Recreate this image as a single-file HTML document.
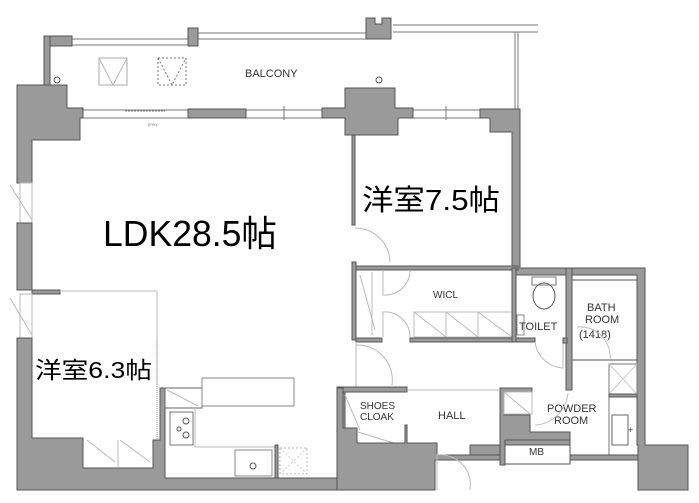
<!DOCTYPE html>
<html><head><meta charset="utf-8"><style>
html,body{margin:0;padding:0;background:#fff;}
svg{display:block;}
.w{fill:#9a9a9a;stroke:#555;stroke-width:1;}
.l{stroke:#777;stroke-width:1;fill:none;}
.f{stroke:#bbb;stroke-width:1;fill:none;}
.t{font-family:"Liberation Sans",sans-serif;fill:#333;}
.j{font-family:"Liberation Sans","Noto Sans CJK JP",sans-serif;fill:#000;}
</style></head><body>
<svg width="699" height="503" viewBox="0 0 699 503" xmlns="http://www.w3.org/2000/svg">
<line class="l" x1="72" y1="39" x2="190" y2="39"/><line class="l" x1="72" y1="45" x2="190" y2="45"/>
<line class="l" x1="198" y1="33" x2="366" y2="33"/><line class="l" x1="198" y1="39" x2="366" y2="39"/>
<line class="l" x1="393" y1="25" x2="538" y2="25"/><line class="l" x1="393" y1="32" x2="538" y2="32"/>
<line class="l" x1="515" y1="32" x2="515" y2="110"/><line class="l" x1="518" y1="32" x2="518" y2="110"/>
<rect class="w" x="44" y="36" width="28" height="10"/>
<rect class="w" x="44" y="36" width="6" height="50"/>
<rect class="w" x="188" y="28" width="10" height="18"/>
<path class="w" d="M366 18h9v6h7v-6h9v21h-25z"/>
<circle cx="57" cy="80" r="3" fill="none" stroke="#555"/>
<circle cx="379" cy="80" r="3" fill="none" stroke="#555"/>
<rect x="99" y="58" width="28" height="27" fill="none" stroke="#aaa"/><path d="M99 58L113 85L127 58" class="f"/>
<rect x="158" y="58" width="28" height="27" fill="none" stroke="#777" stroke-dasharray="2,2"/><path d="M158 58L172 85L186 58" fill="none" stroke="#777" stroke-dasharray="2,2"/>
<text class="t" x="245" y="77" font-size="11">BALCONY</text>
<line class="l" x1="83" y1="110" x2="188" y2="110"/><line class="l" x1="83" y1="118" x2="188" y2="118"/>
<line x1="125" y1="111" x2="165" y2="111" stroke="#777" stroke-dasharray="2,1"/>
<text x="148" y="126" font-size="4" fill="#666" font-family="Liberation Sans">(FIX)</text>
<rect class="w" x="188" y="109" width="58" height="9"/>
<line class="l" x1="246" y1="110" x2="322" y2="110"/><line class="l" x1="246" y1="118" x2="322" y2="118"/>
<line class="l" x1="284" y1="106" x2="284" y2="120"/>
<path class="w" d="M17 85H67V108H83V118H80V140H32V183H17Z"/>
<path class="w" d="M322 108H345V88H395V108H413V118H398V135H345V118H322Z"/>
<line class="l" x1="413" y1="110" x2="480" y2="110"/><line class="l" x1="413" y1="118" x2="480" y2="118"/>
<line class="l" x1="446" y1="106" x2="446" y2="120"/>
<path class="w" d="M480 109H520V268H645V445H688V490H638V445H637V275H512V132H490V118H480Z"/>
<rect x="20" y="183" width="12" height="40" fill="none" stroke="#bbb"/>
<path d="M10 185L32 220" class="f"/>
<rect class="w" x="17" y="223" width="15" height="67"/>
<rect class="w" x="32" y="290" width="28" height="4"/>
<rect x="20" y="294" width="12" height="44" fill="none" stroke="#bbb"/>
<path d="M10 298L32 335" class="f"/>
<path class="w" d="M17 338H32V438H83V468H153V440H160V388H165V478H338V388H345V490H67V490H17Z"/>
<line class="f" x1="60" y1="291" x2="157" y2="291"/>
<line class="f" x1="157" y1="291" x2="157" y2="388"/>
<line x1="157" y1="340" x2="157" y2="440" stroke="#999" stroke-dasharray="1,1"/>
<path class="f" d="M87 440L115 462M120 440L150 462M118 440V468"/>
<rect x="165" y="388" width="37" height="20" fill="none" stroke="#666"/>
<path class="f" d="M167 390L198 406"/>
<rect x="202" y="378" width="92" height="28" fill="none" stroke="#888"/>
<line class="f" x1="195" y1="408" x2="195" y2="447"/><line class="f" x1="195" y1="447" x2="276" y2="447"/>
<rect x="170" y="412" width="23" height="33" fill="none" stroke="#777"/>
<circle cx="186" cy="421" r="3" fill="none" stroke="#555"/><circle cx="186" cy="435" r="3" fill="none" stroke="#555"/><circle cx="179" cy="429" r="2" fill="none" stroke="#555"/>
<rect x="235" y="450" width="37" height="26" fill="none" stroke="#888"/>
<circle cx="253" cy="466" r="3" fill="none" stroke="#555"/>
<rect x="275" y="445" width="3" height="33" class="w"/>
<rect x="280" y="448" width="27" height="26" fill="none" stroke="#bbb" stroke-dasharray="2,2"/>
<path d="M280 448L307 474M307 448L280 474" stroke="#ccc" stroke-dasharray="2,2"/>
<rect class="w" x="352" y="135" width="3" height="90"/>
<path class="f" d="M355 228A35 35 0 0 1 390 262"/>
<rect class="w" x="352" y="266" width="166" height="4"/>
<rect class="w" x="352" y="262" width="4" height="78"/>
<path class="f" d="M383 270V295A25 25 0 0 0 410 270M383 337V312A25 25 0 0 1 410 337"/>
<path class="f" d="M360 275L375 330M372 272V335"/>
<rect x="414" y="312" width="98" height="25" fill="none" stroke="#bbb"/>
<path class="f" d="M414 312L446 337M446 312L478 337M478 312L512 337M446 312V337M478 312V337"/>
<text class="t" x="433" y="298" font-size="10">WICL</text>
<rect class="w" x="356" y="338" width="26" height="4"/><rect class="w" x="410" y="338" width="125" height="4"/>
<rect class="w" x="512" y="268" width="4" height="74"/>
<rect class="w" x="566" y="268" width="6" height="122"/>
<rect x="532" y="277" width="24" height="8" fill="none" stroke="#777"/>
<ellipse cx="544" cy="296" rx="11" ry="13" fill="none" stroke="#555"/>
<rect x="517" y="315" width="7" height="20" fill="none" stroke="#888"/>
<text class="t" x="519" y="330" font-size="11">TOILET</text>
<path class="f" d="M535 342A30 30 0 0 0 563 368V342"/>
<rect class="w" x="563" y="338" width="4" height="5"/>
<rect x="572" y="280" width="65" height="80" fill="none" stroke="#555"/>
<text class="t" x="587" y="311" font-size="11">BATH</text>
<text class="t" x="585" y="323" font-size="11">ROOM</text>
<text class="t" x="579" y="338" font-size="11">(1418)</text>
<path class="f" d="M577 327A30 30 0 0 1 610 360"/>
<rect x="609" y="364" width="28" height="30" fill="none" stroke="#777"/>
<path d="M609 364L637 394M637 364L609 394" stroke="#ccc"/>
<rect class="w" x="609" y="394" width="28" height="3"/>
<rect x="612" y="415" width="16" height="30" fill="none" stroke="#666"/>
<text x="628" y="433" font-size="9" fill="#333" font-family="Liberation Sans">+</text>
<line class="l" x1="609" y1="397" x2="609" y2="460"/>
<text class="t" x="547" y="412" font-size="11">POWDER</text>
<text class="t" x="554" y="424" font-size="11">ROOM</text>
<path class="f" d="M535 425A35 35 0 0 0 568 393"/>
<path class="w" d="M500 388H532V392H504V415H530V432H570V445H505V465H500Z"/>
<rect x="504" y="392" width="28" height="22" fill="none" stroke="#bbb"/><path class="f" d="M504 392L530 414"/>
<rect x="505" y="440" width="65" height="24" fill="none" stroke="#555"/>
<text class="t" x="529" y="455" font-size="10">MB</text>
<rect class="w" x="570" y="455" width="68" height="5"/>
<path class="f" d="M356 345A35 35 0 0 1 392 385"/>
<line class="f" x1="356" y1="342" x2="356" y2="387"/>
<rect class="w" x="337" y="387" width="70" height="5"/>
<line class="f" x1="407" y1="390" x2="500" y2="390"/>
<text class="t" x="360" y="409" font-size="10">SHOES</text>
<text class="t" x="360" y="420" font-size="10">CLOAK</text>
<text class="t" x="438" y="419" font-size="11">HALL</text>
<path class="f" d="M345 395L360 430M358 432L400 445"/>
<path class="w" d="M337 388H343V428H357V443H405V425H407V443H437V455H500V460H435V490H337Z"/>
<path class="f" d="M437 490V455A30 30 0 0 1 470 490"/>
<rect class="w" x="470" y="445" width="30" height="10"/>
<text class="j" x="103" y="246" font-size="36" textLength="174" lengthAdjust="spacingAndGlyphs">LDK28.5帖</text>
<text class="j" x="362" y="210" font-size="29" textLength="138" lengthAdjust="spacingAndGlyphs">洋室7.5帖</text>
<text class="j" x="35" y="378" font-size="23" textLength="117" lengthAdjust="spacingAndGlyphs">洋室6.3帖</text>
</svg>
</body></html>
